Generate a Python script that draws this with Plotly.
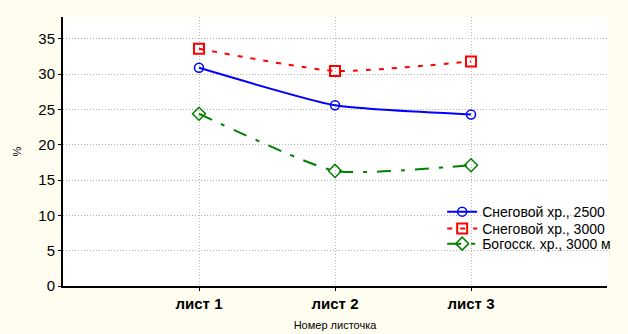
import plotly.graph_objects as go

categories = ["лист 1", "лист 2", "лист 3"]
x_pos = [1, 2, 3]
s1_name = "Снеговой хр., 2500"
s1 = [30.9, 25.6, 24.3]
s2_name = "Снеговой хр., 3000"
s2 = [33.6, 30.45, 31.8]
s3_name = "Богосск. хр., 3000 м"
s3 = [24.4, 16.3, 17.1]
y_ticks = [0, 5, 10, 15, 20, 25, 30, 35]

fig = go.Figure()
fig.add_trace(go.Scatter(x=x_pos, y=s1, name=s1_name, mode="lines+markers", legend="legend",
                         line=dict(color="#0000FF", width=2, shape="spline", smoothing=0.5),
                         marker=dict(symbol="circle-open", size=9, color="#0000FF", line=dict(width=1.5))))
fig.add_trace(go.Scatter(x=x_pos, y=s2, name=s2_name, mode="lines+markers", legend="legend2",
                         line=dict(color="#FF0000", width=2, dash="5px,8px", shape="spline", smoothing=0.5),
                         marker=dict(symbol="square-open", size=10, color="#FF0000", line=dict(width=2))))
fig.add_trace(go.Scatter(x=x_pos, y=s3, name=s3_name, mode="lines+markers", legend="legend3",
                         line=dict(color="#008000", width=2, dash="14px,10px,4px,10px", shape="spline", smoothing=0.5),
                         marker=dict(symbol="diamond-open", size=10, color="#008000", line=dict(width=1.5))))

leg_common = dict(x=0.697, xanchor="left", yanchor="middle",
                  bgcolor="rgba(255,255,255,0)", font=dict(size=14), itemwidth=30)

fig.update_layout(
    width=628, height=334,
    margin=dict(l=63, r=19, t=17, b=48),
    paper_bgcolor="#FFFDF0", plot_bgcolor="#FFFFFF",
    font=dict(family="Arial, Liberation Sans, sans-serif", color="#000000"),
    showlegend=True,
    legend=dict(y=0.275, **leg_common),
    legend2=dict(y=0.212, **leg_common),
    legend3=dict(y=0.156, **leg_common),
    xaxis=dict(range=[0, 4], tickvals=x_pos, ticktext=categories,
               tickfont=dict(size=15, weight="bold"),
               showgrid=True, gridcolor="#B4B4B4", griddash="1px,2px", gridwidth=1,
               showline=True, linecolor="#000000", linewidth=2,
               ticks="outside", ticklen=3, tickcolor="#000000",
               zeroline=False, automargin=False,
               title=dict(text="Номер листочка", font=dict(size=11), standoff=10)),
    yaxis=dict(range=[0, 38.1], tickvals=y_ticks,
               tickfont=dict(size=15),
               showgrid=True, gridcolor="#B4B4B4", griddash="1px,2px", gridwidth=1,
               showline=True, linecolor="#000000", linewidth=2,
               ticks="outside", ticklen=3, tickcolor="#000000",
               zeroline=False, automargin=False,
               title=dict(text="%", font=dict(size=11), standoff=14)),
)

fig.write_html("out.html")
